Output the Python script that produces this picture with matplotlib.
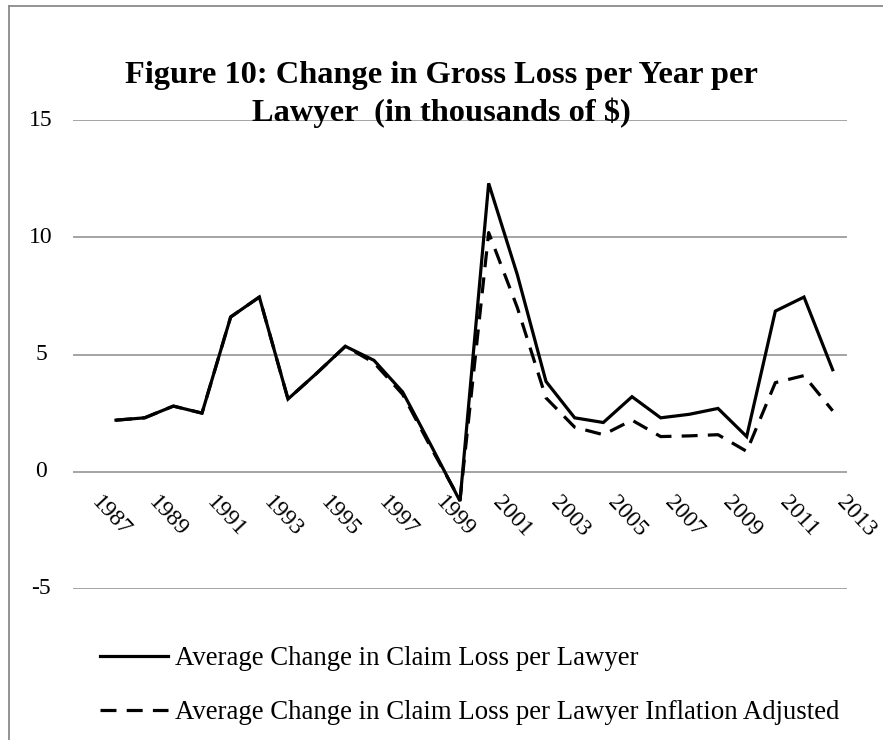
import numpy as np
import matplotlib
matplotlib.use("Agg")
import matplotlib.pyplot as plt
from matplotlib.lines import Line2D

years = list(range(1987, 2014))
gross = [np.nan, 2.2, 2.3, 2.8, 2.5, 6.6, 7.45, 3.1, 4.2, 5.35, 4.75, 3.4, 1.1, -1.25,
         12.3, 8.4, 3.85, 2.3, 2.1, 3.2, 2.3, 2.45, 2.7, 1.5, 6.85, 7.45, 4.35]
adjusted = [np.nan, 2.2, 2.3, 2.8, 2.5, 6.6, 7.45, 3.1, 4.2, 5.35, 4.65, 3.3, 1.0, -1.2,
            10.2, 7.0, 3.15, 1.9, 1.58, 2.2, 1.5, 1.53, 1.58, 0.87, 3.8, 4.1, 2.6]
label_years = years[::2]
y_ticks = [-5, 0, 5, 10, 15]
series_names = ["Average Change in Claim Loss per Lawyer",
                "Average Change in Claim Loss per Lawyer Inflation Adjusted"]
title_lines = ["Figure 10: Change in Gross Loss per Year per",
               "Lawyer  (in thousands of $)"]

plt.rcParams['font.family'] = ['Liberation Serif', 'DejaVu Serif']

W, H = 883, 740
fig = plt.figure(figsize=(W / 100, H / 100), dpi=100)
ax = fig.add_axes([73 / W, 1 - 589 / H, 774 / W, 469 / H])

x = np.arange(len(years))
grid_c = '#8c8c8c'
for v in y_ticks:
    ax.axhline(v, color=grid_c, lw=1.1, zorder=1)

l1, = ax.plot(x, gross, color='black', lw=2.3, solid_joinstyle='miter', zorder=3)
l2, = ax.plot(x, adjusted, color='black', lw=2.3, dashes=(5, 3.2), zorder=2)

ax.set_xlim(-0.5, len(years) - 0.5)
ax.set_ylim(-5, 15)
ax.set_xticks([])
ax.set_yticks([])
for s in ax.spines.values():
    s.set_visible(False)

# y labels
for v in y_ticks:
    ax.annotate(str(v), xy=(-32 / 774, v), xycoords=ax.get_yaxis_transform(),
                ha='center', va='center', fontsize=17)

# x labels hanging from the zero line
for yr in label_years:
    i = years.index(yr)
    ax.annotate(str(yr), xy=(i, 0), xycoords='data', xytext=(0, -15),
                textcoords='offset points', ha='left', va='top',
                rotation=-47, fontsize=17, annotation_clip=False)

# title
fig.text(0.5, 1 - 83 / H, title_lines[0], ha='center', va='baseline',
         fontsize=23.3, fontweight='bold')
fig.text(0.5, 1 - 121 / H, title_lines[1], ha='center', va='baseline',
         fontsize=23.3, fontweight='bold')

# legend
leg = fig.legend([l1, l2], series_names, loc='upper left',
                 bbox_to_anchor=(100 / W, 1 - 646 / H), frameon=False,
                 fontsize=19.3, handlelength=2.55, handletextpad=0.25,
                 labelspacing=1.1, borderpad=0, borderaxespad=0)

# chart border (left and top)
fig.add_artist(Line2D([9 / W, 9 / W], [0, 1 - 6 / H], color='#8a8a8a', lw=1.3,
                      transform=fig.transFigure))
fig.add_artist(Line2D([9 / W, 1], [1 - 6 / H, 1 - 6 / H], color='#8a8a8a', lw=1.3,
                      transform=fig.transFigure))

fig.savefig('out.png', dpi=100)
